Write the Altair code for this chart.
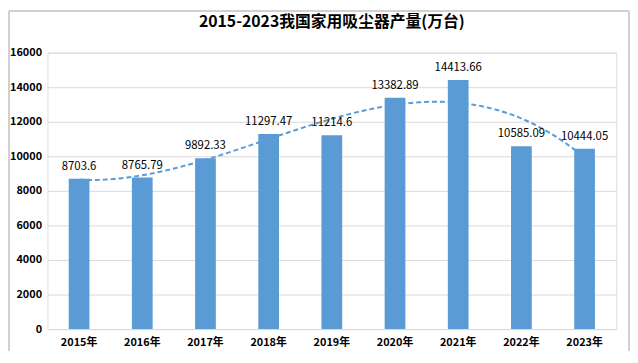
import altair as alt
import pandas as pd

years = ["2015年", "2016年", "2017年", "2018年", "2019年", "2020年", "2021年", "2022年", "2023年"]
idx = [1, 2, 3, 4, 5, 6, 7, 8, 9]
values = [8703.6, 8765.79, 9892.33, 11297.47, 11214.6, 13382.89, 14413.66, 10585.09, 10444.05]
labels = ["8703.6", "8765.79", "9892.33", "11297.47", "11214.6", "13382.89", "14413.66", "10585.09", "10444.05"]

df = pd.DataFrame({"year": years, "i": idx, "value": values, "label": labels})

W, H = 576, 280
FONT = "Noto Sans CJK SC"

yscale = alt.Scale(domain=[0, 16000], nice=False)
yaxis = alt.Axis(values=list(range(0, 16001, 2000)), format="d", domain=False, ticks=False,
                 gridColor="#D9D9D9", labelFont=FONT, labelFontSize=11,
                 labelFontWeight="bold", labelColor="#000000", labelPadding=6)

bars = alt.Chart(df).mark_bar(color="#5B9BD5", size=21).encode(
    x=alt.X("year:N", sort=years, title=None,
            axis=alt.Axis(labelAngle=0, domainColor="#D9D9D9", ticks=False,
                          labelFont=FONT, labelFontSize=11, labelFontWeight="bold",
                          labelColor="#000000", labelPadding=8)),
    y=alt.Y("value:Q", scale=yscale, title=None, axis=yaxis),
)

text = alt.Chart(df).mark_text(dy=-12, font=FONT, fontSize=11.5, color="#000000").encode(
    x=alt.X("year:N", sort=years, axis=None),
    y=alt.Y("value:Q", scale=yscale, title=None, axis=yaxis),
    text="label:N",
)

trend = alt.Chart(df).transform_regression(
    "i", "value", method="poly", order=3, extent=[1, 9]
).mark_line(color="#5B9BD5", strokeDash=[5, 3], strokeWidth=2, interpolate="monotone").encode(
    x=alt.X("i:Q", scale=alt.Scale(domain=[0.5, 9.5], nice=False, zero=False), axis=None),
    y=alt.Y("value:Q", scale=yscale, title=None, axis=yaxis),
)

border = alt.Chart(df).mark_rect(fill=None, stroke="#D0D0D0", strokeWidth=1).encode(
    x=alt.value(-39), x2=alt.value(W + 13), y=alt.value(-42), y2=alt.value(H + 29)
)

chart = alt.layer(border, bars, trend, text).resolve_scale(x="independent").properties(
    width=W, height=H,
    title=alt.TitleParams("2015-2023我国家用吸尘器产量(万台)", font=FONT, fontSize=16,
                          fontWeight="bold", color="#000000", anchor="middle", offset=-20),
    autosize=alt.AutoSizeParams(type="none"),
    padding={"left": 40, "top": 43, "right": 14, "bottom": 20},
).configure_view(strokeWidth=0).configure(background="white")

chart.save("out.html", embed_options={"renderer": "svg", "actions": False})
